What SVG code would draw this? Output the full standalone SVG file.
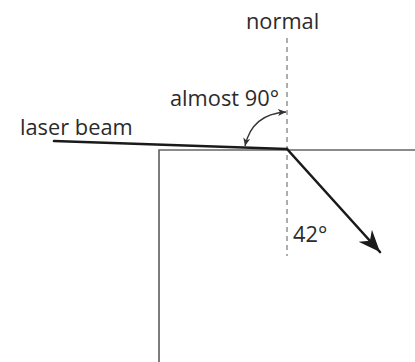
<svg xmlns="http://www.w3.org/2000/svg" width="415" height="362" viewBox="0 0 415 362">
<style>
.lbl{font-family:"Open Sans","Noto Sans",sans-serif;font-size:21.8px;fill:#2b2b2b}
.block{fill:none;stroke:#666;stroke-width:1.7}
.normal{fill:none;stroke:#999;stroke-width:1.6;stroke-dasharray:5 4}
.beam{fill:none;stroke:#1a1a1a;stroke-width:2.6;stroke-linecap:round}
.arc{fill:none;stroke:#333;stroke-width:1.3}
</style>
<defs>
<marker id="big" viewBox="-22 -10 24 20" markerUnits="userSpaceOnUse" markerWidth="24" markerHeight="20" refX="0" refY="0" orient="auto">
<path d="M0 0 L-22 -9 L-15 0 L-22 9 Z" fill="#1a1a1a"/>
</marker>
<marker id="small" viewBox="-8 -4 9 8" markerUnits="userSpaceOnUse" markerWidth="9" markerHeight="8" refX="0" refY="0" orient="auto-start-reverse">
<path d="M0 0 L-8 -3.5 L-6 0 L-8 3.5 Z" fill="#333"/>
</marker>
</defs>
<g id="block">
<path class="block" d="M159 362 L159 150 L415 150"/>
</g>
<g id="normal-line">
<line class="normal" x1="287" y1="38" x2="287" y2="256"/>
</g>
<g id="connectors">
<line class="beam" x1="54" y1="141" x2="287" y2="149"/>
<line class="beam" x1="287" y1="149" x2="380" y2="252" marker-end="url(#big)"/>
<path class="arc" d="M245 146 Q252 114 286 112" marker-start="url(#small)" marker-end="url(#small)"/>
</g>
<g id="labels">
<text class="lbl" x="246" y="29">normal</text>
<text class="lbl" x="170" y="106">almost 90°</text>
<text class="lbl" x="20" y="135">laser beam</text>
<text class="lbl" x="293" y="242">42°</text>
</g>
</svg>
